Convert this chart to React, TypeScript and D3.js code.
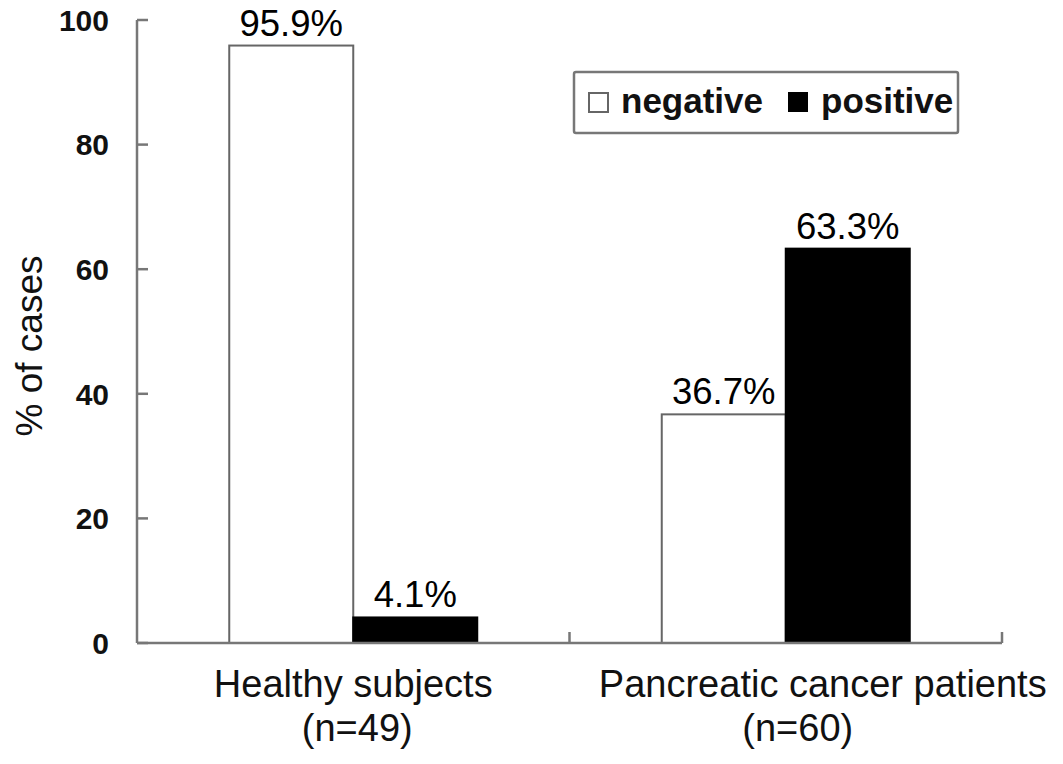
import React from "react";
import * as d3 from "d3";

const categories = ["Healthy subjects", "Pancreatic cancer patients"];
const categorySub = ["(n=49)", "(n=60)"];
const seriesNames = ["negative", "positive"];
const negativeValues = [95.9, 36.7];
const positiveValues = [4.1, 63.3];
const yTicks = [0, 20, 40, 60, 80, 100];

const W = 1063;
const H = 764;
const left = 137;
const right = 1002;
const top = 20;
const bottom = 643;
const FONT = "'Liberation Sans', Arial, Helvetica, sans-serif";
const AXIS = "#777";

export default function App() {
  const y = d3.scaleLinear().domain([0, 100]).range([bottom, top]);
  const x0 = d3.scaleBand<string>().domain(categories).range([left, right]).padding(0);
  const barW = 124;
  const po = (x0.bandwidth() / barW - seriesNames.length) / 2;
  const x1 = d3
    .scaleBand<string>()
    .domain(seriesNames)
    .range([0, x0.bandwidth()])
    .paddingInner(0)
    .paddingOuter(po);
  const fills: Record<string, string> = { negative: "#fff", positive: "#000" };
  const vals: Record<string, number[]> = { negative: negativeValues, positive: positiveValues };
  const labelOffsets = [
    [0, 4],
    [37, 12],
  ];
  const boundaries = [left, ...categories.map((c) => (x0(c) as number) + x0.bandwidth())];

  return (
    <svg
      width={W}
      height={H}
      style={{ position: "absolute", left: 0, top: 0, background: "#fff" }}
      fontFamily={FONT}
    >
      <rect x={0} y={0} width={W} height={H} fill="#fff" />
      {/* bars */}
      {categories.map((c, ci) =>
        seriesNames.map((s) => {
          const v = vals[s][ci];
          const bx = (x0(c) as number) + (x1(s) as number);
          const by = y(v);
          return (
            <g key={c + s}>
              <rect
                x={bx}
                y={by}
                width={x1.bandwidth()}
                height={y(0) - by}
                fill={fills[s]}
                stroke={s === "negative" ? "#666" : "#000"}
                strokeWidth={2}
              />
              <text
                x={bx + x1.bandwidth() / 2}
                y={by - 10}
                textAnchor="middle"
                fontSize={36.5}
                fill="#000"
              >
                {v.toFixed(1)}%
              </text>
            </g>
          );
        })
      )}
      {/* y axis */}
      <line x1={left} x2={left} y1={top} y2={bottom} stroke={AXIS} strokeWidth={2.5} />
      {yTicks.map((t) => (
        <g key={t}>
          <line x1={left} x2={left + 11} y1={y(t)} y2={y(t)} stroke={AXIS} strokeWidth={2.5} />
          <text
            x={109}
            y={y(t)}
            dy="0.36em"
            textAnchor="end"
            fontSize={30}
            fontWeight="bold"
            fill="#111"
          >
            {t}
          </text>
        </g>
      ))}
      <text
        transform={`translate(42,346) rotate(-90)`}
        textAnchor="middle"
        fontSize={37}
        fill="#111"
      >
        % of cases
      </text>
      {/* x axis */}
      <line x1={left} x2={right} y1={bottom} y2={bottom} stroke={AXIS} strokeWidth={2.5} />
      {boundaries.slice(1).map((b, i) => (
        <line key={i} x1={b} x2={b} y1={bottom} y2={bottom - 11} stroke={AXIS} strokeWidth={2.5} />
      ))}
      {categories.map((c, ci) => {
        const cx = (x0(c) as number) + x0.bandwidth() / 2;
        return (
          <g key={c}>
            <text x={cx + labelOffsets[ci][0]} y={697} textAnchor="middle" fontSize={38} fill="#111">
              {c}
            </text>
            <text x={cx + labelOffsets[ci][1]} y={741} textAnchor="middle" fontSize={38} fill="#111">
              {categorySub[ci]}
            </text>
          </g>
        );
      })}
      {/* legend */}
      <rect x={574} y={72} width={384} height={61} fill="#fff" stroke={AXIS} strokeWidth={2.5} rx={2} />
      <rect x={589} y={93} width={19} height={19} fill="#fff" stroke="#666" strokeWidth={2} />
      <text x={621} y={113} fontSize={35} fontWeight="bold" fill="#111">
        {seriesNames[0]}
      </text>
      <rect x={788} y={92} width={20} height={20} fill="#000" />
      <text x={821} y={113} fontSize={35} fontWeight="bold" fill="#111">
        {seriesNames[1]}
      </text>
    </svg>
  );
}
